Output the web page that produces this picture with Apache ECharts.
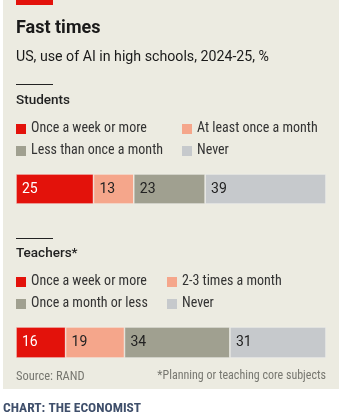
<!DOCTYPE html>
<html><head><meta charset="utf-8">
<script src="https://cdn.jsdelivr.net/npm/echarts@6/dist/echarts.min.js"></script>
<style>html,body{margin:0;padding:0;background:#fff;}#c{width:342px;height:415px;}</style>
</head><body><div id="c"></div>
<script>
const studentCategories = ["Once a week or more","At least once a month","Less than once a month","Never"];
const studentValues = [25,13,23,39];
const teacherCategories = ["Once a week or more","2-3 times a month","Once a month or less","Never"];
const teacherValues = [16,19,34,31];
const colors = ["#e3120b","#f5a68b","#a0a090","#c6c9cc"];
const labelColors = ["#ffffff","#222222","#222222","#222222"];

const FONT = "Roboto";
const chart = echarts.init(document.getElementById('c'));

function legendGraphics(cats, top, col2x) {
  const g = [];
  const pos = [[16, top],[col2x, top],[16, top+22],[col2x, top+22]];
  cats.forEach((c,i)=>{
    g.push({type:'rect', left:pos[i][0], top:pos[i][1]-5, shape:{width:10,height:10}, style:{fill:colors[i]}});
    g.push({type:'text', left:pos[i][0]+15, top:pos[i][1]-8, style:{text:c, font:'14px "Roboto Condensed", '+FONT, fill:'#333'}});
  });
  return g;
}

function stackSeries(values, cats, gi) {
  return values.map((v,i)=>({
    type:'bar', stack:'s'+gi, xAxisIndex:gi, yAxisIndex:gi, name:cats[i],
    data:[v], barWidth:'100%',
    itemStyle:{color:colors[i], borderColor:'#f4f3ee', borderWidth:0.6},
    label:{show:true, position:'insideLeft', distance:6, formatter:'{c}', color:labelColors[i], fontFamily:FONT, fontSize:14},
    silent:true
  }));
}

const option = {
  backgroundColor:'#ffffff',
  animation:false,
  grid:[
    {left:16, width:310, top:174, height:30},
    {left:16, width:310, top:327, height:31}
  ],
  xAxis:[
    {type:'value', gridIndex:0, min:0, max:100, show:false},
    {type:'value', gridIndex:1, min:0, max:100, show:false}
  ],
  yAxis:[
    {type:'category', gridIndex:0, data:['Students'], show:false},
    {type:'category', gridIndex:1, data:['Teachers'], show:false}
  ],
  graphic:[
    {type:'rect', left:3, top:0, z:-10, shape:{width:336,height:389}, style:{fill:'#ecebe1'}},
    {type:'rect', left:16, top:0, shape:{width:37,height:5}, style:{fill:'#e3120b'}},
    {type:'text', left:16, top:19, style:{text:'Fast times', font:'bold 18px '+FONT, fill:'#1a1a1a'}},
    {type:'text', left:16, top:50, style:{text:'US, use of AI in high schools, 2024-25, %', font:'14.2px '+FONT, fill:'#1a1a1a'}},
    {type:'rect', left:16, top:84, shape:{width:37,height:1}, style:{fill:'#222'}},
    {type:'text', left:16, top:94, style:{text:'Students', font:'500 13.5px '+FONT, fill:'#222'}},
    ...legendGraphics(studentCategories, 129, 182),
    {type:'rect', left:16, top:238, shape:{width:37,height:1}, style:{fill:'#222'}},
    {type:'text', left:16, top:247, style:{text:'Teachers*', font:'500 13.5px '+FONT, fill:'#222'}},
    ...legendGraphics(teacherCategories, 282, 167),
    {type:'text', left:16, top:370, style:{text:'Source: RAND', font:'12.5px "Roboto Condensed", '+FONT, fill:'#777770'}},
    {type:'text', right:16, top:370, style:{text:'*Planning or teaching core subjects', font:'12px "Roboto Condensed", '+FONT, fill:'#777770', align:'right'}},
    {type:'text', left:3, top:402, style:{text:'CHART: THE ECONOMIST', font:'bold 13.5px "Roboto Condensed", '+FONT, fill:'#3f4f6b'}}
  ],
  series:[...stackSeries(studentValues, studentCategories, 0), ...stackSeries(teacherValues, teacherCategories, 1)]
};
chart.setOption(option);
</script></body></html>
